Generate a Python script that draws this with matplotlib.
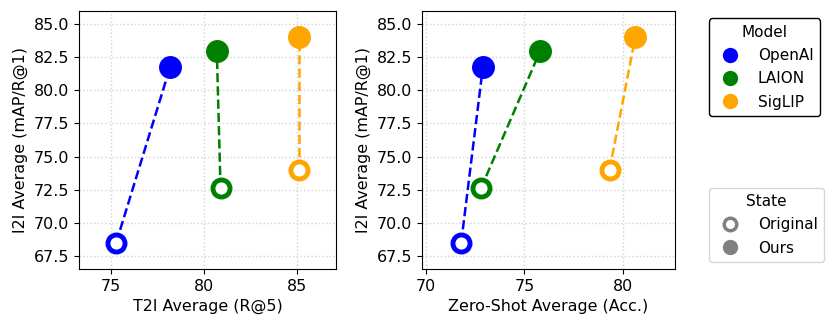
import matplotlib.pyplot as plt
from matplotlib.lines import Line2D

models = ["OpenAI", "LAION", "SigLIP"]
colors = ["blue", "green", "orange"]

# I2I average (mAP/R@1)
i2i_orig = [68.5, 72.6, 74.0]
i2i_ours = [81.8, 83.0, 84.0]

# T2I average (R@5)
t2i_orig = [75.3, 80.9, 85.1]
t2i_ours = [78.2, 80.7, 85.1]

# zero-shot average (Acc.)
zs_orig = [71.8, 72.8, 79.3]
zs_ours = [72.9, 75.8, 80.6]

fs = 11.4

fig = plt.figure(figsize=(8.3, 3.29), dpi=100)
ax1 = fig.add_axes([0.0952, 0.1824, 0.3096, 0.7842])
ax2 = fig.add_axes([0.508, 0.1824, 0.305, 0.7842])


def draw(ax, x_orig, x_ours, xlabel):
    for i in range(len(models)):
        ax.plot([x_orig[i], x_ours[i]], [i2i_orig[i], i2i_ours[i]],
                ls='--', color=colors[i], lw=1.8, zorder=2)
        ax.plot(x_ours[i], i2i_ours[i], 'o', color=colors[i], ms=15.5, zorder=3)
        ax.plot(x_orig[i], i2i_orig[i], 'o', mfc='white', mec=colors[i],
                mew=3.5, ms=12.3, zorder=3)
    xs = x_orig + x_ours
    ys = i2i_orig + i2i_ours
    ax.set_xlim(min(xs) - 2, max(xs) + 2)
    ax.set_ylim(min(ys) - 2, max(ys) + 2)
    ax.set_xlabel(xlabel, fontsize=fs)
    ax.set_ylabel("I2I Average (mAP/R@1)", fontsize=fs)
    ax.tick_params(labelsize=fs)
    ax.grid(True, ls=':', color='lightgray', lw=1)
    ax.set_axisbelow(True)


draw(ax1, t2i_orig, t2i_ours, "T2I Average (R@5)")
draw(ax2, zs_orig, zs_ours, "Zero-Shot Average (Acc.)")
ax2.set_xticks([70, 75, 80])

lfs = 11
model_handles = [Line2D([], [], ls='', marker='o', color=c, ms=10) for c in colors]
leg1 = fig.legend(model_handles, models, title="Model", loc='upper left',
                  bbox_to_anchor=(0.845, 0.967), fontsize=lfs, title_fontsize=lfs,
                  edgecolor='black', framealpha=1, labelspacing=0.55)
state_handles = [Line2D([], [], ls='', marker='o', mfc='white', mec='gray', mew=2.5, ms=9),
                 Line2D([], [], ls='', marker='o', color='gray', ms=10)]
leg2 = fig.legend(state_handles, ["Original", "Ours"], title="State", loc='upper left',
                  bbox_to_anchor=(0.845, 0.453), fontsize=lfs, title_fontsize=lfs,
                  labelspacing=0.55)

fig.savefig("out.png", dpi=100)
